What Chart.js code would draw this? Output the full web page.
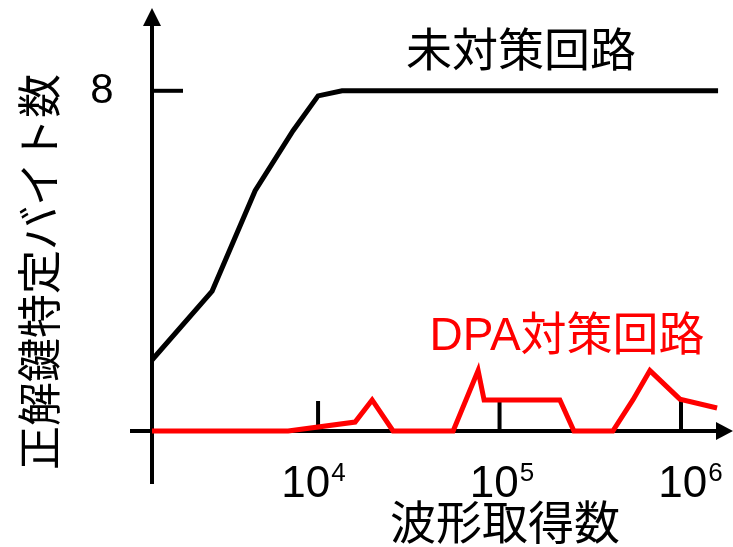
<!DOCTYPE html>
<html lang="ja">
<head>
<meta charset="utf-8">
<title>波形取得数と正解鍵特定バイト数</title>
<script src="https://cdn.jsdelivr.net/npm/chart.js@4.4.1/dist/chart.umd.min.js"></script>
<style>
  html, body { margin: 0; padding: 0; background: #ffffff; }
  #wrap { width: 733px; height: 547px; position: relative; }
</style>
</head>
<body>
<div id="wrap"><canvas id="dpaChart"></canvas></div>
<script>
// 未対策回路 (unprotected circuit)
const plainTraces = [1216, 2608, 4500, 7280, 10000, 13560, 1600000];
const plainBytes = [1.67, 3.29, 5.65, 7.06, 7.88, 8.0, 8.0];

// DPA対策回路 (protected circuit)
const dpaTraces = [1216, 6840, 16000, 19860, 25900, 55500, 76200, 82200, 215000, 257000, 421000, 543000, 674000, 986000, 1580000];
const dpaBytes = [0, 0, 0.21, 0.73, 0, 0, 1.42, 0.73, 0.73, 0, 0, 0.73, 1.42, 0.75, 0.54];

const xTickValues = [10000, 100000, 1000000];
const xTickExponents = ["4", "5", "6"];
const yTickValues = [8];

const X_MIN = 1216;
const X_MAX = 1815000;
const Y_MAX = 9.9;

// labels in the original sit a little off their ticks
const xLabelShift = [-3, 4, 11];

const LATIN = '"Liberation Sans", Arial, sans-serif';
const CJK = '"Liberation Sans", "Noto Sans CJK JP", sans-serif';

function toPoints(xs, ys) {
  return xs.map((x, i) => ({ x, y: ys[i] }));
}

// hand-drawn style axes with arrows, inner ticks and labels
const axesPlugin = {
  id: "arrowAxes",
  beforeDatasetsDraw(chart) {
    const { ctx, chartArea, scales } = chart;
    const xs = scales.x;
    const ys = scales.y;
    const y0 = ys.getPixelForValue(0);
    const left = chartArea.left;

    ctx.save();
    ctx.strokeStyle = "#000";
    ctx.fillStyle = "#000";
    ctx.lineWidth = 4;
    ctx.lineCap = "butt";

    // x axis
    ctx.beginPath();
    ctx.moveTo(left - 22, y0);
    ctx.lineTo(chartArea.right - 10, y0);
    ctx.stroke();
    ctx.beginPath();
    ctx.moveTo(chartArea.right + 5, y0);
    ctx.lineTo(chartArea.right - 12, y0 - 9);
    ctx.lineTo(chartArea.right - 12, y0 + 9);
    ctx.closePath();
    ctx.fill();

    // y axis
    ctx.beginPath();
    ctx.moveTo(left, y0 + 53);
    ctx.lineTo(left, chartArea.top + 14);
    ctx.stroke();
    ctx.beginPath();
    ctx.moveTo(left, chartArea.top - 2);
    ctx.lineTo(left - 9, chartArea.top + 16);
    ctx.lineTo(left + 9, chartArea.top + 16);
    ctx.closePath();
    ctx.fill();

    // x ticks (pointing up)
    xTickValues.forEach((v, i) => {
      const px = xs.getPixelForValue(v);
      ctx.beginPath();
      ctx.moveTo(px, y0);
      ctx.lineTo(px, y0 - 30);
      ctx.stroke();

      ctx.font = "44px " + LATIN;
      const w10 = ctx.measureText("10").width;
      ctx.font = "26px " + LATIN;
      const wExp = ctx.measureText(xTickExponents[i]).width;
      const startX = px + xLabelShift[i] - (w10 + wExp) / 2 - 2;
      ctx.textAlign = "left";
      ctx.textBaseline = "alphabetic";
      ctx.font = "44px " + LATIN;
      ctx.fillText("10", startX, y0 + 66);
      ctx.font = "26px " + LATIN;
      ctx.fillText(xTickExponents[i], startX + w10 + 1, y0 + 50);
    });

    // y ticks (pointing right)
    yTickValues.forEach(v => {
      const py = ys.getPixelForValue(v);
      ctx.beginPath();
      ctx.moveTo(left, py);
      ctx.lineTo(left + 31, py);
      ctx.stroke();
      ctx.font = "42px " + LATIN;
      ctx.textAlign = "center";
      ctx.textBaseline = "alphabetic";
      ctx.fillText(String(v), left - 50, py + 12);
    });

    // axis titles
    ctx.textAlign = "center";
    ctx.textBaseline = "middle";
    ctx.font = "46px " + CJK;
    ctx.fillText("波形取得数", 505, 526);

    ctx.save();
    ctx.translate(44, 272);
    ctx.rotate(-Math.PI / 2);
    ctx.font = "44px " + CJK;
    ctx.fillText("正解鍵特定バイト数", 0, 0);
    ctx.restore();

    // series labels
    ctx.font = "46px " + CJK;
    ctx.fillStyle = "#000";
    ctx.fillText("未対策回路", 521, 53);
    ctx.fillStyle = "#ff0000";
    ctx.fillText("DPA対策回路", 567, 337);

    ctx.restore();
  }
};

new Chart(document.getElementById("dpaChart"), {
  type: "line",
  data: {
    datasets: [
      {
        label: "未対策回路",
        data: toPoints(plainTraces, plainBytes),
        borderColor: "#000000",
        borderWidth: 5,
        pointRadius: 0,
        tension: 0,
        clip: false
      },
      {
        label: "DPA対策回路",
        data: toPoints(dpaTraces, dpaBytes),
        borderColor: "#ff0000",
        borderWidth: 5,
        pointRadius: 0,
        tension: 0,
        clip: false
      }
    ]
  },
  options: {
    responsive: true,
    maintainAspectRatio: false,
    animation: false,
    layout: {
      padding: { left: 152, right: 5, top: 10, bottom: 116 }
    },
    plugins: {
      legend: { display: false },
      tooltip: { enabled: false }
    },
    scales: {
      x: {
        type: "logarithmic",
        min: X_MIN,
        max: X_MAX,
        display: false
      },
      y: {
        min: 0,
        max: Y_MAX,
        display: false
      }
    }
  },
  plugins: [axesPlugin]
});
</script>
</body>
</html>
